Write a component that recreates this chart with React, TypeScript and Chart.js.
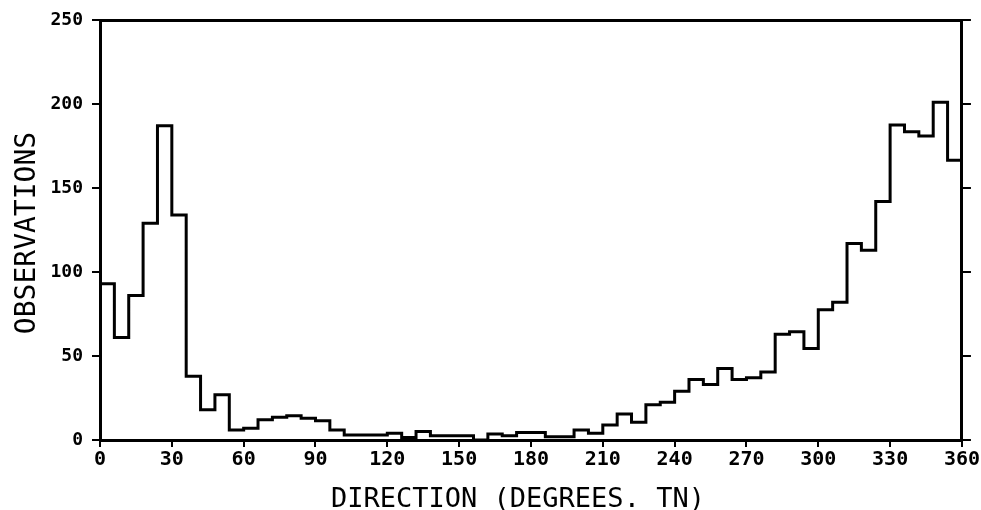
import React, { useEffect, useRef } from 'react';
import { Chart, registerables } from 'chart.js';

Chart.register(...registerables);

// 6-degree direction bins (start of each bin), last bin closes at 360
const BIN_STARTS = [
  0, 6, 12, 18, 24, 30, 36, 42, 48, 54,
  60, 66, 72, 78, 84, 90, 96, 102, 108, 114,
  120, 126, 132, 138, 144, 150, 156, 162, 168, 174,
  180, 186, 192, 198, 204, 210, 216, 222, 228, 234,
  240, 246, 252, 258, 264, 270, 276, 282, 288, 294,
  300, 306, 312, 318, 324, 330, 336, 342, 348, 354,
];
const BIN_END = 360;

const COUNTS = [
  93, 61, 86, 129, 187, 134, 38, 18, 27, 6,
  7, 12, 13.5, 14.5, 13, 11.5, 6, 3, 3, 3,
  4, 1.5, 5, 2.5, 2.5, 2.5, 0, 3.5, 2.5, 4.5,
  4.5, 2, 2, 6, 4, 9, 15.5, 10.5, 21, 22.5,
  29, 36, 33, 42.5, 36, 37, 40.5, 63, 64.5, 54.5,
  77.5, 82, 117, 113, 142, 187.5, 183.5, 181, 201, 166.5,
];

const X_TICKS = [0, 30, 60, 90, 120, 150, 180, 210, 240, 270, 300, 330, 360];
const Y_TICKS = [0, 50, 100, 150, 200, 250];
const X_TITLE = 'DIRECTION (DEGREES. TN)';
const Y_TITLE = 'OBSERVATIONS';

const MONO = '"DejaVu Sans Mono", monospace';

const titlesPlugin = {
  id: 'axisTitles',
  afterDraw(chart: any) {
    const { ctx, chartArea } = chart;
    ctx.save();
    ctx.fillStyle = '#000';
    ctx.font = `27px ${MONO}`;
    ctx.textAlign = 'center';
    ctx.textBaseline = 'alphabetic';
    ctx.fillText(X_TITLE, (chartArea.left + chartArea.right) / 2 - 13, 507);
    ctx.translate(35, (chartArea.top + chartArea.bottom) / 2 + 3);
    ctx.rotate(-Math.PI / 2);
    ctx.font = `28px ${MONO}`;
    ctx.fillText(Y_TITLE, 0, 0);
    ctx.restore();
  },
};

export default function App() {
  const ref = useRef<HTMLCanvasElement | null>(null);

  useEffect(() => {
    if (!ref.current) return;
    const points = BIN_STARTS.map((x, i) => ({ x, y: COUNTS[i] }));
    points.push({ x: BIN_END, y: COUNTS[COUNTS.length - 1] });

    const axisBorder = { display: true, color: '#000', width: 3 };

    const chart = new Chart(ref.current, {
      type: 'line',
      data: {
        datasets: [
          {
            data: points,
            stepped: 'before',
            borderColor: '#000',
            borderWidth: 3,
            pointRadius: 0,
            fill: false,
            tension: 0,
            clip: false as any,
          },
        ],
      },
      options: {
        responsive: false,
        animation: false,
        layout: { padding: 0 },
        plugins: { legend: { display: false }, tooltip: { enabled: false }, title: { display: false } },
        scales: {
          x: {
            type: 'linear',
            position: 'bottom',
            min: 0,
            max: 360,
            afterBuildTicks: (s: any) => { s.ticks = X_TICKS.map((value) => ({ value })); },
            afterFit: (s: any) => { s.height = 70; },
            ticks: {
              color: '#000',
              font: { family: MONO, weight: 'bold', size: 20 },
              padding: 1,
              maxRotation: 0,
              autoSkip: false,
            },
            grid: { drawOnChartArea: false, drawTicks: true, tickLength: 7, color: '#000', lineWidth: 2 },
            border: axisBorder,
          },
          x2: {
            type: 'linear',
            position: 'top',
            min: 0,
            max: 360,
            afterFit: (s: any) => { s.height = 20; },
            ticks: { display: false },
            grid: { drawOnChartArea: false, drawTicks: false },
            border: axisBorder,
          },
          y: {
            type: 'linear',
            position: 'left',
            min: 0,
            max: 250,
            afterBuildTicks: (s: any) => { s.ticks = Y_TICKS.map((value) => ({ value })); },
            afterFit: (s: any) => { s.width = 100; },
            ticks: {
              color: '#000',
              font: { family: MONO, weight: 'bold', size: 18 },
              padding: 9,
            },
            grid: { drawOnChartArea: false, drawTicks: true, tickLength: 8, color: '#000', lineWidth: 2 },
            border: axisBorder,
          },
          y2: {
            type: 'linear',
            position: 'right',
            min: 0,
            max: 250,
            afterBuildTicks: (s: any) => { s.ticks = Y_TICKS.map((value) => ({ value })); },
            afterFit: (s: any) => { s.width = 18; },
            ticks: { display: false },
            grid: { drawOnChartArea: false, drawTicks: true, tickLength: 9, color: '#000', lineWidth: 2 },
            border: axisBorder,
          },
        },
      } as any,
      plugins: [titlesPlugin],
    });
    return () => chart.destroy();
  }, []);

  return (
    <div style={{ position: 'fixed', left: 0, top: 0, width: 981, height: 510, background: '#fff' }}>
      <canvas ref={ref} width={981} height={510} style={{ display: 'block' }} />
    </div>
  );
}
